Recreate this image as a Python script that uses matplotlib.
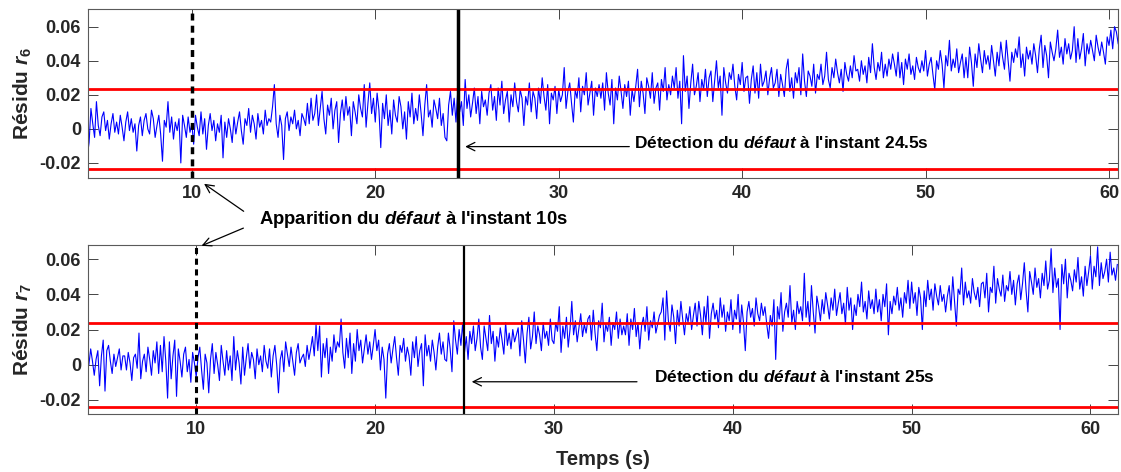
import numpy as np
import matplotlib
matplotlib.use("Agg")
import matplotlib.pyplot as plt

plt.rcParams["font.family"] = ["Liberation Sans", "DejaVu Sans"]
plt.rcParams["font.weight"] = "bold"
plt.rcParams["mathtext.fontset"] = "custom"
plt.rcParams["mathtext.it"] = "Liberation Sans:italic:bold"
plt.rcParams["mathtext.rm"] = "Liberation Sans:bold"

# residual r6 (units of 1e-3), one sample every 0.1 s from 4.3 s
r6_milli = [
    -16, -8, 12, 3, -5, 16, 2, -4, 7, 10, -1, 5, -6, 3, 9, -2, 4, -3, 8, 1,
    -7, 4, 10, -1, 6, -2, 3, -13, 2, 7, -4, 5, 9, 0, -3, 11, 6, -5, 2, 8,
    -3, -19, 5, 1, 16, -2, 7, -6, 4, -1, 6, -20, 8, 2, -5, 7, -2, 3, -9, 8,
    1, -4, 10, -3, 6, -12, 2, 9, -1, 5, -7, 3, -2, 8, -17, 4, -5, 6, 0, -8,
    7, -3, 4, 10, -1, -9, 6, 2, 12, -2, 8, 3, -6, 9, 1, 5, -3, 11, 2, 6,
    4, 13, 26, 3, -5, 8, 2, -18, 6, 10, -1, 7, 3, 11, 0, 5, -4, 9, 6, 2,
    15, 3, 18, 5, 9, 20, 2, 12, 22, 6, -3, 14, 8, 18, 0, 11, 16, -8, 9, 17,
    5, 19, 8, 13, -4, 16, 10, 3, 20, 12, 7, 26, 1, 15, 27, 9, 18, 4, 21, 11,
    -11, 15, 6, 20, 2, 11, -3, 17, 8, 4, 19, 13, 0, 10, -6, 16, 7, 21, 3, 12,
    5, 20, 9, -4, 14, 26, 7, 11, 1, 17, 12, 6, 18, 2, 9, -5, -7, 14, 22, 8,
    18, 4, 23, 10, 16, 2, 29, 12, 20, 7, 15, 24, 9, 19, 3, 22, 13, 17, 8, 21,
    26, 11, 19, 5, 24, 14, 28, 9, 17, 22, 4, 20, 13, 27, 16, 10, 23, 18, 2, 19,
    14, 27, 10, 22, 18, 6, 24, 15, 30, 19, 11, 26, 3, 21, 17, 25, 9, 23, 16, 20,
    36, 12, 22, 27, 15, 4, 23, 18, 30, 10, 25, 20, 33, 14, 21, 28, 8, 24, 19, 26,
    18, 27, 11, 33, 21, 14, 29, 3, 24, 17, 31, 22, 12, 26, 19, 28, 8, 23, 16, 25,
    35, 13, 28, 21, 9, 30, 25, 18, 33, 15, 24, 27, 11, 29, 22, 36, 17, 26, 20, 31,
    24, 36, 18, 28, 3, 43, 22, 31, 12, 27, 38, 20, 25, 33, 16, 29, 23, 35, 19, 30,
    34, 16, 28, 40, 24, 31, 8, 36, 27, 21, 33, 29, 38, 25, 17, 32, 26, 39, 22, 30,
    31, 15, 29, 37, 21, 33, 18, 38, 25, 28, 34, 20, 30, 36, 24, 27, 35, 19, 32, 26,
    19, 35, 41, 22, 30, 18, 33, 27, 36, 20, 44, 28, 19, 34, 31, 25, 38, 21, 32, 29,
    38, 26, 31, 45, 29, 24, 36, 30, 41, 33, 27, 35, 22, 39, 32, 28, 37, 30, 43, 34,
    35, 28, 40, 32, 37, 27, 42, 33, 50, 36, 29, 39, 34, 45, 30, 38, 31, 41, 35, 44,
    38, 31, 45, 30, 39, 26, 41, 35, 44, 32, 37, 29, 42, 36, 33, 40, 34, 46, 31, 38,
    42, 32, 23, 40, 35, 46, 38, 24, 43, 37, 52, 34, 41, 36, 47, 33, 39, 44, 30, 42,
    30, 48, 39, 25, 44, 36, 50, 41, 33, 46, 38, 43, 35, 49, 40, 31, 45, 37, 51, 42,
    35, 52, 40, 28, 45, 39, 47, 42, 54, 36, 44, 31, 48, 41, 46, 38, 50, 43, 33, 47,
    55, 36, 49, 43, 30, 51, 45, 40, 47, 58, 42, 48, 38, 53, 44, 50, 41, 46, 60, 39,
    53, 41, 47, 56, 37, 50, 44, 52, 46, 40, 55, 48, 43, 51, 45, 38, 54, 49, 58, 47,
    60, 57, 50,
]

# residual r7 (units of 1e-3), one sample every 0.1 s from 4.0 s
r7_milli = [
    0, 9, 2, -6, 3, 8, -12, 5, 14, -15, 8, 11, 2, -5, 6, -1, 4, 9, -3, 5,
    5, -3, 7, 1, -9, 4, 6, -2, 18, -8, 2, 6, -4, 10, 3, -6, 8, 1, 13, -5,
    11, -4, 16, 2, -19, 13, -8, 5, 14, -18, 9, 2, -7, 6, 10, -4, 3, -10, 7, 1,
    -7, 4, 10, -3, -14, 6, 1, -16, 3, 12, -5, 7, 0, -9, 11, 2, -6, 8, -3, 5,
    -9, 16, -3, 8, 1, -11, 10, -6, 4, 12, -2, 7, 3, -8, 9, 0, 5, -4, 11, 2,
    -2, 9, -7, 5, 11, 0, -16, 3, 8, -4, 13, 6, -1, 10, 2, -6, 7, 12, 1, 4,
    6, -1, 11, 3, 9, 16, 5, 23, 8, 22, -7, 12, 4, 15, -5, 10, 2, 17, 7, 13,
    10, 26, 7, -2, 15, 4, 18, -5, 12, 2, 20, 8, 14, 1, 9, 17, 6, 13, 3, 11,
    20, 8, 14, -3, 10, 3, -19, 6, 12, 1, 9, 16, 4, -6, 11, 7, 15, 2, 10, 5,
    -6, 13, 4, 16, -1, 8, 12, -12, 17, 5, 11, 2, 14, 7, -3, 10, 18, 6, 13, 3,
    2, 18, 9, -4, 25, 14, 6, 20, 11, 24, 7, 16, 3, 19, 12, 22, 8, 15, 26, 10,
    3, 22, 15, 8, 28, 12, 19, 2, 16, 10, 21, 14, 6, 24, 11, 18, 9, 20, 13, 17,
    21, 5, 25, 14, 1, 18, 27, 9, 16, 30, 12, 22, 17, 8, 24, 15, 19, 11, 26, 14,
    12, 24, 19, 33, 7, 22, 15, 27, 10, 20, 36, 17, 25, 13, 21, 29, 16, 23, 18, 26,
    28, 14, 31, 18, 8, 25, 21, 35, 13, 23, 19, 27, 11, 24, 20, 30, 15, 26, 17, 22,
    17, 29, 11, 26, 20, 32, 16, 24, 9, 22, 27, 19, 33, 14, 25, 21, 30, 18, 23, 28,
    30, 38, 14, 42, 25, 19, 34, 27, 12, 31, 22, 36, 26, 17, 29, 24, 33, 20, 28, 35,
    22, 36, 28, 17, 33, 24, 39, 15, 29, 35, 26, 31, 21, 38, 27, 34, 19, 30, 25, 37,
    20, 31, 26, 40, 18, 34, 24, 8, 30, 36, 27, 32, 22, 38, 29, 25, 35, 28, 33, 23,
    15, 28, 22, 37, 3, 33, 26, 41, 19, 30, 35, 27, 45, 24, 31, 20, 36, 29, 33, 25,
    52, 27, 36, 22, 45, 30, 18, 39, 33, 25, 37, 29, 41, 34, 26, 38, 31, 43, 28, 35,
    41, 29, 35, 23, 44, 31, 38, 20, 34, 28, 40, 33, 47, 30, 36, 26, 42, 32, 37, 29,
    43, 30, 37, 25, 40, 33, 46, 17, 36, 29, 39, 34, 44, 31, 38, 27, 41, 35, 48, 32,
    47, 35, 41, 28, 44, 38, 20, 42, 33, 48, 37, 43, 31, 46, 39, 34, 45, 36, 40, 30,
    39, 45, 31, 50, 36, 22, 43, 40, 55, 34, 47, 38, 42, 35, 49, 41, 37, 44, 33, 46,
    47, 38, 52, 30, 44, 41, 56, 35, 49, 43, 39, 51, 36, 45, 42, 53, 40, 48, 34, 46,
    51, 37, 46, 58, 42, 30, 53, 47, 40, 55, 44, 49, 38, 52, 45, 59, 43, 48, 66, 41,
    55, 44, 49, 20, 57, 46, 60, 38, 52, 48, 42, 54, 47, 61, 43, 50, 39, 56, 45, 53,
    62, 43, 56, 50, 67, 45, 58, 49, 53, 60, 47, 64, 51, 55, 48, 57,
]

t6_start, t7_start, dt = 4.3, 4.0, 0.1
threshold6 = 0.0233
threshold7 = 0.0240
t_fault = 10
t_detect6 = 24.5
t_detect7 = 25

r6 = np.array(r6_milli) * 1e-3
r7 = np.array(r7_milli) * 1e-3
t6 = t6_start + dt * np.arange(len(r6))
t7 = t7_start + dt * np.arange(len(r7))

fig = plt.figure(figsize=(11.21, 4.72), dpi=100)
ax1 = fig.add_axes([0.0785, 0.623, 0.919, 0.358])
ax2 = fig.add_axes([0.0785, 0.123, 0.919, 0.358])

gray = "#262626"


def style_axis(ax):
    ax.tick_params(direction="in", length=7, width=0.6, top=True, right=True,
                   colors=gray, labelsize=13, pad=5)
    for s in ax.spines.values():
        s.set_color("#5a5a5a")
        s.set_linewidth(0.8)
    ax.set_xticks([10, 20, 30, 40, 50, 60])
    ax.set_yticks([-0.02, 0, 0.02, 0.04, 0.06])
    ax.set_yticklabels(["-0.02", "0", "0.02", "0.04", "0.06"])
    for lab in ax.get_xticklabels() + ax.get_yticklabels():
        lab.set_fontweight("bold")


arrow = dict(arrowstyle="->", color="black", lw=0.9, mutation_scale=15)

# --- r6 ---
ax1.plot(t6, r6, color="blue", lw=0.8)
ax1.axhline(threshold6, color="red", lw=2)
ax1.axhline(-threshold6, color="red", lw=2)
ax1.axvline(t_fault, color="black", lw=2.5, ls=(0, (2, 1.5)))
ax1.axvline(t_detect6, color="black", lw=2.5)
ax1.set_xlim(4.34, 60.5)
ax1.set_ylim(-0.0288, 0.0704)
ax1.set_ylabel(r"Résidu $\mathit{r_6}$", fontsize=15, fontweight="bold", color=gray)
style_axis(ax1)
ax1.annotate("", xy=(24.75, -0.0104), xytext=(34.0, -0.0104), arrowprops=arrow)
ax1.text(34.1, -0.0083, r"Détection du $\mathit{défaut}$ à l'instant 24.5s",
         fontsize=12.4, fontweight="bold", va="center", ha="left")

# --- r7 ---
ax2.plot(t7, r7, color="blue", lw=0.8)
ax2.axhline(threshold7, color="red", lw=2)
ax2.axhline(-threshold7, color="red", lw=2)
ax2.axvline(t_fault, color="black", lw=2.2, ls=(0, (2, 1.5)))
ax2.axvline(t_detect7, color="black", lw=1.6)
ax2.set_xlim(3.95, 61.55)
ax2.set_ylim(-0.0280, 0.0681)
ax2.set_ylabel(r"Résidu $\mathit{r_7}$", fontsize=15, fontweight="bold", color=gray)
ax2.set_xlabel("Temps (s)", fontsize=14.5, fontweight="bold", color=gray, labelpad=9)
style_axis(ax2)
ax2.annotate("", xy=(25.25, -0.0097), xytext=(34.8, -0.0097), arrowprops=arrow)
ax2.text(35.6, -0.0068, r"Détection du $\mathit{défaut}$ à l'instant 25s",
         fontsize=12.4, fontweight="bold", va="center", ha="left")

# fault appearance, shared between both panels
fig.text(0.231, 0.534, r"Apparition du $\mathit{défaut}$ à l'instant 10s",
         fontsize=13.3, fontweight="bold", va="center", ha="left")
fig.add_artist(plt.Annotation("", xy=(0.180, 0.614), xytext=(0.2194, 0.549),
                              xycoords="figure fraction", arrowprops=arrow))
fig.add_artist(plt.Annotation("", xy=(0.1775, 0.477), xytext=(0.2194, 0.519),
                              xycoords="figure fraction", arrowprops=arrow))

fig.savefig("out.png", dpi=100)
